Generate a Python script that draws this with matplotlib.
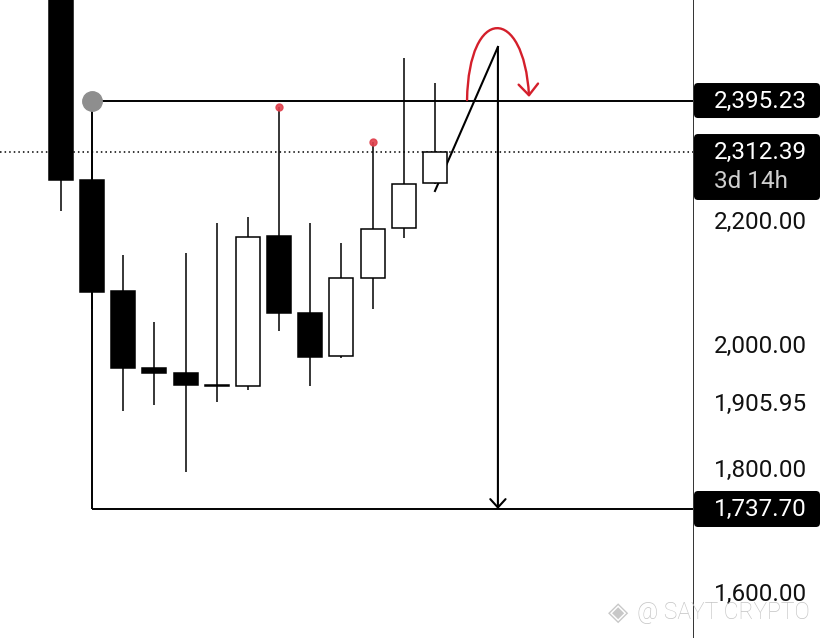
"""
ETH 日线形态 + 手绘目标线
"""

import matplotlib
matplotlib.use('Agg')
from matplotlib import pyplot as plt
from matplotlib.patches import FancyBboxPatch, FancyArrowPatch
from matplotlib.path import Path

plt.rcParams['font.family'] = ['Roboto', 'DejaVu Sans']

# candles (index, OHLC)
candle_idx = list(range(13))
opens = [2620, 2268, 2089, 1965, 1957, 1937, 1936, 2178, 2054, 1984, 2110, 2191, 2263]
highs = [2680, 2300, 2147, 2039, 2150, 2199, 2208, 2386, 2199, 2166, 2329, 2465, 2424]
lows = [2218, 2060, 1896, 1905, 1797, 1910, 1930, 2025, 1936, 1981, 2060, 2174, 2262]
closes = [2268, 2087, 1965, 1957, 1937, 1936, 2176, 2054, 1983, 2110, 2189, 2262, 2312.39]

# drawn levels
range_high = 2395.23
range_low = 1737.70
last_price = 2312.39
countdown = '3d 14h'
range_start = 1
marked_highs = [7, 10]

# hand drawn projection
proj_start = (12.0, 2250.2)
proj_peak = (14.02, 2482.3)
swing_path = [(13.03, 2396.8), (13.08, 2549.9), (14.85, 2549.9), (15.02, 2401.7)]

axis_prices = [2200.00, 2000.00, 1905.95, 1800.00, 1600.00]

x_lim = (-1.957, 20.28)
y_lim = (1529.8, 2558.0)


def plot():
    fig = plt.figure(figsize=(8.28, 6.38), dpi=100)
    ax = fig.add_axes([0, 0, 693 / 828, 1])
    ax2 = fig.add_axes([693 / 828, 0, 135 / 828, 1])
    ax.set_xlim(*x_lim)
    ax.set_ylim(*y_lim)
    ax.axis('off')

    # candles
    for i, o, h, l, c in zip(candle_idx, opens, highs, lows, closes):
        ax.vlines(i, l, h, color='black', lw=1.1, zorder=2)
        face = 'white' if c > o else 'black'
        ax.bar(i, c - o, bottom=o, width=0.77, color=face, edgecolor='black',
               lw=1.1, zorder=3)

    # current price dotted line
    ax.axhline(last_price, color='black', lw=1.1, ls=(0, (1, 2)), zorder=1)

    # range box lines
    ax.hlines([range_high, range_low], range_start, x_lim[1], color='black', lw=1.4, zorder=4)
    ax.vlines(range_start, range_low, range_high, color='black', lw=1.4, zorder=4)
    ax.plot(range_start, range_high, 'o', ms=14, color='#8e8e8e', zorder=5)

    # red dots on wick highs
    ax.plot(marked_highs, [highs[i] for i in marked_highs], 'o', ms=5,
            color='#e0404c', alpha=0.9, zorder=5)

    # projection line + drop arrow
    ax.plot([proj_start[0], proj_peak[0]], [proj_start[1], proj_peak[1]],
            color='black', lw=1.5, zorder=2.5)
    ax.annotate('', xy=(proj_peak[0], range_low), xytext=proj_peak,
                arrowprops=dict(arrowstyle='->,head_length=0.6,head_width=0.55',
                                lw=1.5, color='black', shrinkA=0, shrinkB=0),
                zorder=4)

    # red swing arc
    arc = Path(swing_path, [Path.MOVETO, Path.CURVE4, Path.CURVE4, Path.CURVE4])
    ax.add_patch(FancyArrowPatch(path=arc, arrowstyle='->,head_length=0.8,head_width=0.7',
                                 mutation_scale=10, color='#d41f2b', lw=1.7, zorder=6))

    # right price scale
    ax2.set_xlim(0, 135)
    ax2.set_ylim(*y_lim)
    ax2.axis('off')
    ax2.axvline(0, color='#222222', lw=1.3)
    asp = 1 / 0.6205
    fs = 17.5

    def box(y0, y1):
        ax2.add_patch(FancyBboxPatch((1, y0), 126, y1 - y0,
                                     boxstyle='round,pad=0,rounding_size=4',
                                     mutation_aspect=asp, fc='black', ec='none'))

    box(2367.8, 2424.2)
    ax2.text(21, range_high, f'{range_high:,.2f}', color='white', fontsize=fs,
             va='center', ha='left')
    box(2235.7, 2342.0)
    ax2.text(21, last_price, f'{last_price:,.2f}', color='white', fontsize=fs,
             va='center', ha='left')
    ax2.text(21, 2266.3, countdown, color='#cfcfcf', fontsize=fs,
             va='center', ha='left')
    box(1708.7, 1766.7)
    ax2.text(21, range_low, f'{range_low:,.2f}', color='white', fontsize=fs,
             va='center', ha='left')
    for p in axis_prices:
        ax2.text(21, p, f'{p:,.2f}', color='#111111', fontsize=fs,
                 va='center', ha='left')

    # watermark
    fig.text(0.747, 0.040, '◈', family=['DejaVu Sans'], fontsize=19,
             color='#c8c8c8', ha='center', va='center')
    fig.text(0.769, 0.040, '@ SAYT CRYPTO', fontsize=16.5, color='#c4c4c4',
             ha='left', va='center', fontweight='light')

    fig.savefig('out.png', dpi=100)


if __name__ == '__main__':
    plot()
